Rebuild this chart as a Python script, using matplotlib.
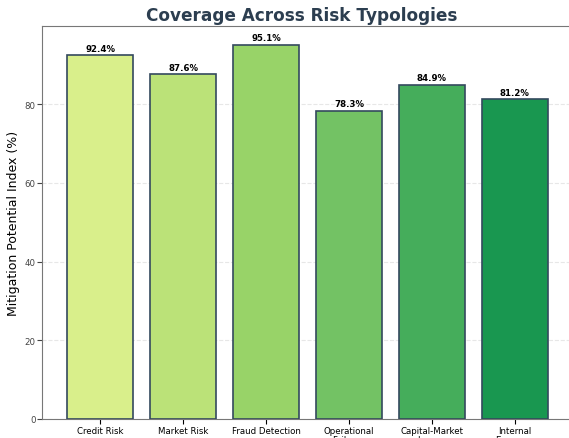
import numpy as np
import matplotlib
matplotlib.use("Agg")
import matplotlib.pyplot as plt

# 各リスク類型のカバー率
categories = ["Credit Risk", "Market Risk", "Fraud Detection",
              "Operational\nFailures", "Capital-Market\nLosses", "Internal\nExposure"]
coverage = [92.4, 87.6, 95.1, 78.3, 84.9, 81.2]

colors = plt.cm.RdYlGn(np.linspace(0.6, 0.9, len(categories)))

fig = plt.figure(figsize=(5.69, 4.39), dpi=100)
ax = fig.add_axes([42 / 569, 1 - 420 / 439, 530 / 569, (420 - 27) / 439])

x = np.arange(len(categories))
bars = ax.bar(x, coverage, width=0.8, color=colors, edgecolor="#34495e", linewidth=1.2, zorder=3)

for b, v in zip(bars, coverage):
    ax.text(b.get_x() + b.get_width() / 2, v + 0.6, f"{v}%", ha="center", va="bottom",
            fontsize=6.2, fontweight="bold")

ax.set_xticks(x)
ax.set_xticklabels(categories, fontsize=6.2, linespacing=1.0)
ax.tick_params(axis="y", labelsize=6.2, length=3.5, pad=1.2, colors="#444444")
ax.tick_params(axis="x", length=3.5, pad=1.5)
ax.set_ylim(0, max(coverage) * 1.05)
ax.set_xlim(-0.7, 5.69)
ax.set_ylabel("Mitigation Potential Index (%)", fontsize=9, labelpad=3)
ax.yaxis.grid(True, linestyle="--", alpha=0.3, zorder=0)
for s in ax.spines.values():
    s.set_color("#777777")

fig.text(0.53, 0.9636, "Coverage Across Risk Typologies", ha="center", va="center",
         fontsize=12.2, fontweight="bold", color="#2c3e50")

fig.savefig("out.png", dpi=100)
